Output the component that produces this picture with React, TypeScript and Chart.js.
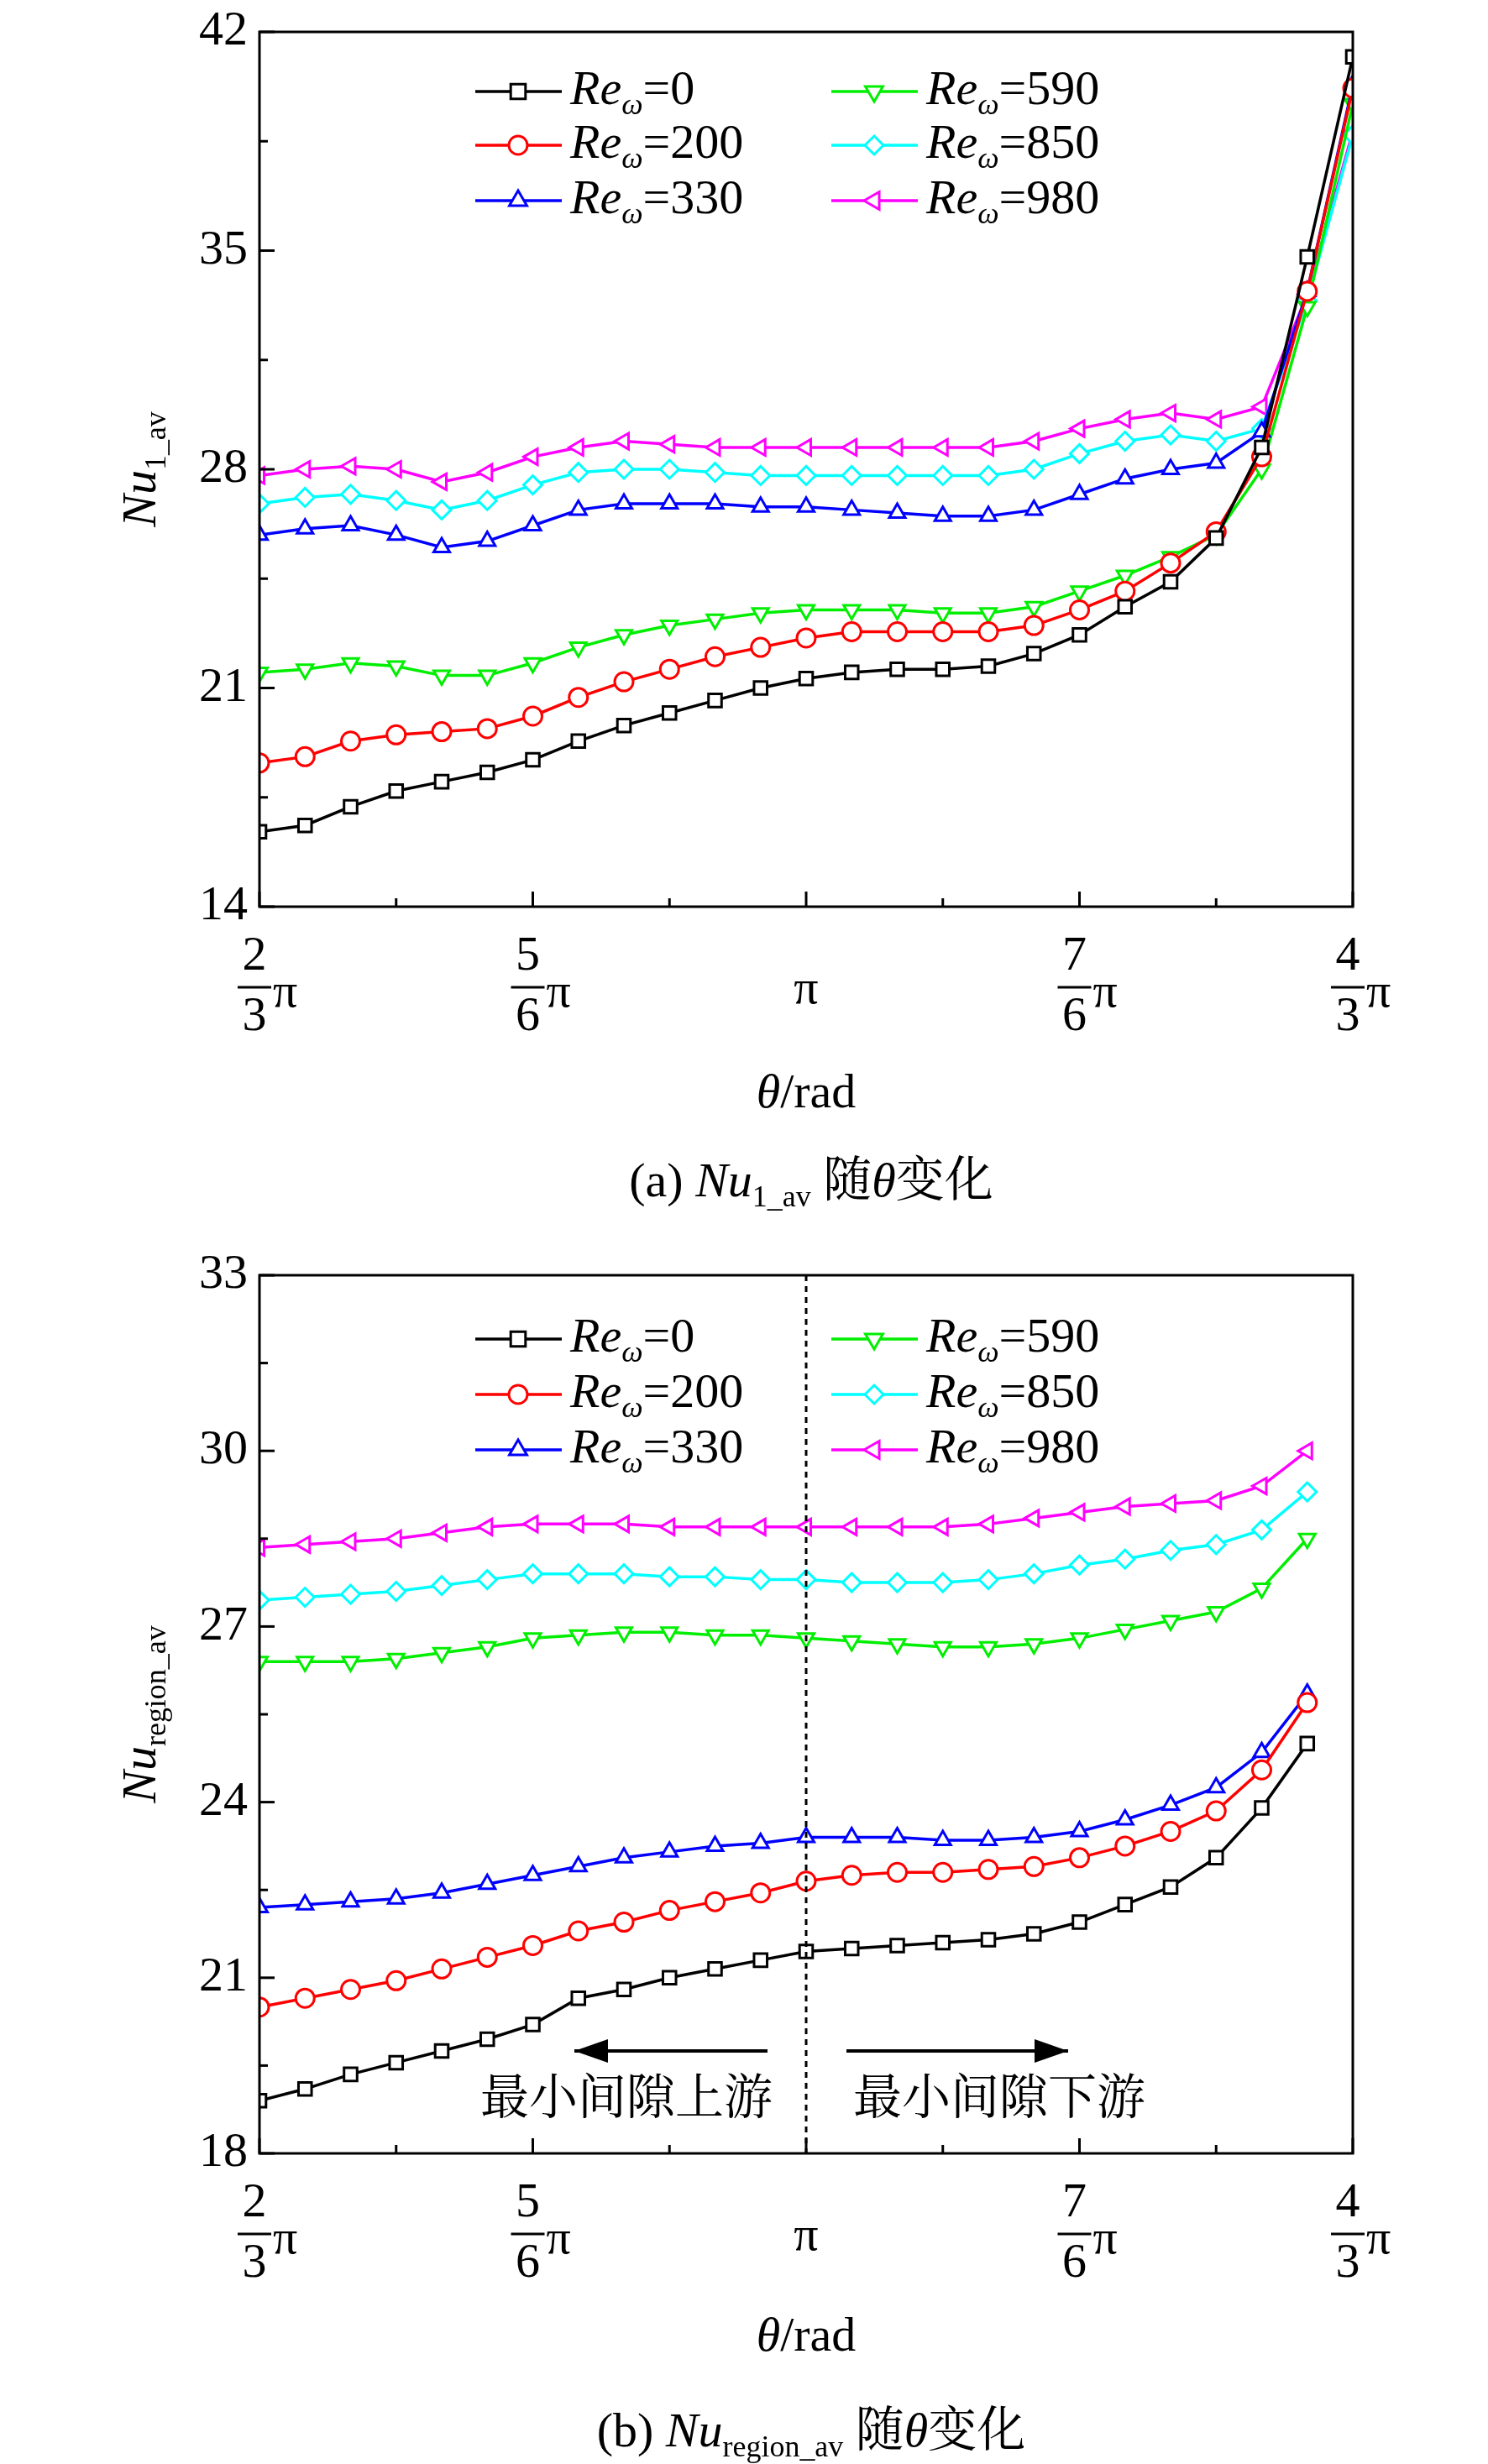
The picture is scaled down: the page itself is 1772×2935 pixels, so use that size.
import React, { useEffect, useRef } from "react";
import { Chart, registerables } from "chart.js";
Chart.register(...registerables);

const seriesNames = ["0", "200", "330", "590", "850", "980"];
const colors = ["#000000", "#ff0000", "#0000ff", "#00ee00", "#00ffff", "#ff00ff"];
const styles: any[] = [["rect", 0], ["circle", 0], ["triangle", 0], ["triangle", 180], ["rectRot", 0], ["triangle", 270]];

const a0 = [16.4,16.6,17.2,17.7,18.0,18.3,18.7,19.3,19.8,20.2,20.6,21.0,21.3,21.5,21.6,21.6,21.7,22.1,22.7,23.6,24.4,25.8,28.7,34.8,41.2];
const a200 = [18.6,18.8,19.3,19.5,19.6,19.7,20.1,20.7,21.2,21.6,22.0,22.3,22.6,22.8,22.8,22.8,22.8,23.0,23.5,24.1,25.0,26.0,28.4,33.7,40.2];
const a330 = [25.9,26.1,26.2,25.9,25.5,25.7,26.2,26.7,26.9,26.9,26.9,26.8,26.8,26.7,26.6,26.5,26.5,26.7,27.2,27.7,28.0,28.2,29.2,33.7,40.3];
const a590 = [21.5,21.6,21.8,21.7,21.4,21.4,21.8,22.3,22.7,23.0,23.2,23.4,23.5,23.5,23.5,23.4,23.4,23.6,24.1,24.6,25.2,25.9,28.0,33.2,39.7];
const a850 = [26.9,27.1,27.2,27.0,26.7,27.0,27.5,27.9,28.0,28.0,27.9,27.8,27.8,27.8,27.8,27.8,27.8,28.0,28.5,28.9,29.1,28.9,29.3,33.4,38.7];
const a980 = [27.8,28.0,28.1,28.0,27.6,27.9,28.4,28.7,28.9,28.8,28.7,28.7,28.7,28.7,28.7,28.7,28.7,28.9,29.3,29.6,29.8,29.6,30.0,33.6,38.8];

const b0 = [18.9,19.1,19.35,19.55,19.75,19.95,20.2,20.65,20.8,21.0,21.15,21.3,21.45,21.5,21.55,21.6,21.65,21.75,21.95,22.25,22.55,23.05,23.9,25.0];
const b200 = [20.5,20.65,20.8,20.95,21.15,21.35,21.55,21.8,21.95,22.15,22.3,22.45,22.65,22.75,22.8,22.8,22.85,22.9,23.05,23.25,23.5,23.85,24.55,25.7];
const b330 = [22.2,22.25,22.3,22.35,22.45,22.6,22.75,22.9,23.05,23.15,23.25,23.3,23.4,23.4,23.4,23.35,23.35,23.4,23.5,23.7,23.95,24.25,24.85,25.85];
const b590 = [26.4,26.4,26.4,26.45,26.55,26.65,26.8,26.85,26.9,26.9,26.85,26.85,26.8,26.75,26.7,26.65,26.65,26.7,26.8,26.95,27.1,27.25,27.65,28.5];
const b850 = [27.45,27.5,27.55,27.6,27.7,27.8,27.9,27.9,27.9,27.85,27.85,27.8,27.8,27.75,27.75,27.75,27.8,27.9,28.05,28.15,28.3,28.4,28.65,29.3];
const b980 = [28.35,28.4,28.45,28.5,28.6,28.7,28.75,28.75,28.75,28.7,28.7,28.7,28.7,28.7,28.7,28.7,28.75,28.85,28.95,29.05,29.1,29.15,29.4,30.0];

const xTickIdx = [0, 6, 12, 18, 24];
const xTickLabels: [string, string][] = [["2", "3"], ["5", "6"], ["", ""], ["7", "6"], ["4", "3"]];
const aYTicks = [14, 21, 28, 35, 42];
const bYTicks = [18, 21, 24, 27, 30, 33];

const SERIF = "'Liberation Serif', 'Noto Serif CJK SC', 'Noto Sans CJK SC', serif";
type Run = { t: string; i?: boolean; sub?: boolean };

function richWidth(ctx: any, runs: Run[], size: number) {
  let w = 0;
  for (const r of runs) {
    const s = r.sub ? size * 0.62 : size;
    ctx.font = `${r.i ? "italic " : ""}${s}px ${SERIF}`;
    w += ctx.measureText(r.t).width;
  }
  return w;
}
function drawRich(ctx: any, x: number, y: number, runs: Run[], size: number, align = "left") {
  const w = richWidth(ctx, runs, size);
  let cx = align === "center" ? x - w / 2 : x;
  ctx.textBaseline = "middle";
  ctx.textAlign = "left";
  ctx.fillStyle = "#000";
  for (const r of runs) {
    const s = r.sub ? size * 0.62 : size;
    ctx.font = `${r.i ? "italic " : ""}${s}px ${SERIF}`;
    ctx.fillText(r.t, cx, r.sub ? y + size * 0.3 : y);
    cx += ctx.measureText(r.t).width;
  }
}

function makeChart(canvas: HTMLCanvasElement, cfg: any) {
  const data = cfg.series.map((vals: number[], k: number) => ({
    data: vals.map((v, i) => ({ x: i, y: v })),
    borderColor: colors[k],
    backgroundColor: "#fff",
    borderWidth: 3.5,
    pointStyle: styles[k][0],
    rotation: styles[k][1],
    pointRadius: 11,
    pointBorderWidth: 3,
    pointBackgroundColor: "#fff",
    pointBorderColor: colors[k],
  }));
  const ymin = cfg.yTicks[0], ymax = cfg.yTicks[cfg.yTicks.length - 1];
  const plugin = {
    id: "deco",
    afterDraw(chart: any) {
      const ctx = chart.ctx;
      const xs = chart.scales.x, ys = chart.scales.y;
      const { left, right, top, bottom } = chart.chartArea;
      ctx.save();
      ctx.strokeStyle = "#000";
      ctx.lineWidth = 3;
      ctx.strokeRect(left, top, right - left, bottom - top);
      for (let i = 0; i <= 24; i += 3) {
        const px = xs.getPixelForValue(i);
        const len = i % 6 === 0 ? 18 : 10;
        ctx.beginPath(); ctx.moveTo(px, bottom); ctx.lineTo(px, bottom - len); ctx.stroke();
      }
      const step = cfg.yTicks[1] - cfg.yTicks[0];
      for (let v = ymin; v <= ymax + 1e-6; v += step / 2) {
        const py = ys.getPixelForValue(v);
        const major = Math.abs((v - ymin) / step - Math.round((v - ymin) / step)) < 1e-6;
        ctx.beginPath(); ctx.moveTo(left, py); ctx.lineTo(left + (major ? 18 : 10), py); ctx.stroke();
      }
      ctx.font = `58px ${SERIF}`;
      ctx.fillStyle = "#000";
      ctx.textAlign = "right"; ctx.textBaseline = "middle";
      for (const v of cfg.yTicks) ctx.fillText(String(v), left - 14, ys.getPixelForValue(v));
      xTickIdx.forEach((idx, k) => {
        const px = xs.getPixelForValue(idx);
        const [n, d] = xTickLabels[k];
        ctx.textBaseline = "middle";
        ctx.font = `58px ${SERIF}`;
        if (!n) {
          ctx.textAlign = "center";
          ctx.fillText("π", px, bottom + 100);
          return;
        }
        ctx.textAlign = "center";
        ctx.fillText(n, px - 6, bottom + 60);
        ctx.fillText(d, px - 6, bottom + 132);
        ctx.lineWidth = 3;
        ctx.beginPath(); ctx.moveTo(px - 26, bottom + 96); ctx.lineTo(px + 14, bottom + 96); ctx.stroke();
        ctx.textAlign = "left";
        ctx.fillText("π", px + 16, bottom + 104);
      });
      drawRich(ctx, (left + right) / 2, cfg.xTitleY, [{ t: "θ", i: true }, { t: "/rad" }], 58, "center");
      ctx.save();
      ctx.translate(170, (top + bottom) / 2);
      ctx.rotate(-Math.PI / 2);
      drawRich(ctx, 0, 0, [{ t: "Nu", i: true }, { t: cfg.ySub, sub: true }], 58, "center");
      ctx.restore();
      drawRich(ctx, 1772 / 2 + 80, cfg.captionY, [{ t: `(${cfg.letter}) ` }, { t: "Nu", i: true }, { t: cfg.ySub, sub: true }, { t: " 随" }, { t: "θ", i: true }, { t: "变化" }], 58, "center");
      const rows = cfg.legendY;
      seriesNames.forEach((nm, k) => {
        const col = k < 3 ? 0 : 1;
        const y = rows[k % 3];
        const x0 = col === 0 ? 566 : 990;
        ctx.strokeStyle = colors[k]; ctx.lineWidth = 3.5;
        ctx.beginPath(); ctx.moveTo(x0, y); ctx.lineTo(x0 + 103, y); ctx.stroke();
        ctx.fillStyle = "#fff"; ctx.lineWidth = 3;
        const mx = x0 + 51, r = 11;
        ctx.beginPath();
        const st = styles[k];
        if (st[0] === "rect") ctx.rect(mx - r * 0.8, y - r * 0.8, r * 1.6, r * 1.6);
        else if (st[0] === "circle") ctx.arc(mx, y, r, 0, Math.PI * 2);
        else if (st[0] === "rectRot") { ctx.moveTo(mx, y - r); ctx.lineTo(mx + r, y); ctx.lineTo(mx, y + r); ctx.lineTo(mx - r, y); ctx.closePath(); }
        else {
          const rot = (st[1] * Math.PI) / 180;
          for (let j = 0; j < 3; j++) {
            const a = rot + (j * 2 * Math.PI) / 3 - Math.PI / 2;
            const px = mx + r * 1.1 * Math.cos(a), py = y + r * 1.1 * Math.sin(a);
            j === 0 ? ctx.moveTo(px, py) : ctx.lineTo(px, py);
          }
          ctx.closePath();
        }
        ctx.fill(); ctx.stroke();
        drawRich(ctx, x0 + 113, y, [{ t: "Re", i: true }, { t: "ω", i: true, sub: true }, { t: "=" + nm }], 58);
      });
      if (cfg.extra) cfg.extra(chart, ctx);
      ctx.restore();
    },
  };
  return new Chart(canvas, {
    type: "line",
    data: { datasets: data },
    plugins: [plugin],
    options: {
      animation: false,
      responsive: false,
      layout: { padding: cfg.padding },
      plugins: { legend: { display: false }, tooltip: { enabled: false } },
      scales: {
        x: { type: "linear", min: 0, max: 24, ticks: { display: false }, grid: { display: false }, border: { display: false } },
        y: { min: ymin, max: ymax, ticks: { display: false }, grid: { display: false }, border: { display: false } },
      },
    },
  } as any);
}

function Panel(props: { cfg: any; top: number; height: number }) {
  const ref = useRef<HTMLCanvasElement>(null);
  useEffect(() => {
    let c: any = null;
    let dead = false;
    const fonts = (document as any).fonts;
    const loads = fonts
      ? Promise.all([
          fonts.load(`58px "Liberation Serif"`),
          fonts.load(`italic 58px "Liberation Serif"`),
          fonts.load(`58px "Noto Serif CJK SC"`, "最小间隙随变化"),
          fonts.load(`58px "Noto Sans CJK SC"`, "最小间隙随变化"),
        ]).catch(() => null)
      : Promise.resolve(null);
    loads.then(() => {
      if (!dead && ref.current) c = makeChart(ref.current, props.cfg);
    });
    return () => {
      dead = true;
      if (c) c.destroy();
    };
  }, []);
  return (
    <canvas ref={ref} width={1772} height={props.height}
      style={{ position: "absolute", left: 0, top: props.top, width: 1772, height: props.height }} />
  );
}

const cfgA = {
  series: [a0, a200, a330, a590, a850, a980],
  yTicks: aYTicks,
  ySub: "1_av",
  letter: "a",
  padding: { left: 301, right: 161, top: 38, bottom: 379 },
  xTitleY: 1304,
  captionY: 1410,
  legendY: [109, 173, 239],
};
const cfgB = {
  series: [b0, b200, b330, b590, b850, b980],
  yTicks: bYTicks,
  ySub: "region_av",
  letter: "b",
  padding: { left: 301, right: 161, top: 52, bottom: 362 },
  xTitleY: 1318,
  captionY: 1432,
  legendY: [128, 194, 260],
  extra: (chart: any, ctx: any) => {
    const xs = chart.scales.x;
    const { top, bottom } = chart.chartArea;
    const px = xs.getPixelForValue(12);
    ctx.strokeStyle = "#000"; ctx.lineWidth = 3; ctx.setLineDash([7, 6]);
    ctx.beginPath(); ctx.moveTo(px, top); ctx.lineTo(px, bottom); ctx.stroke();
    ctx.setLineDash([]);
    const ay = 976;
    const arrow = (x1: number, x2: number) => {
      ctx.beginPath(); ctx.moveTo(x1, ay); ctx.lineTo(x2, ay); ctx.stroke();
      const dir = Math.sign(x2 - x1);
      ctx.fillStyle = "#000";
      ctx.beginPath(); ctx.moveTo(x2, ay); ctx.lineTo(x2 - dir * 40, ay - 14); ctx.lineTo(x2 - dir * 40, ay + 14); ctx.closePath(); ctx.fill();
    };
    ctx.lineWidth = 4;
    arrow(914, 684);
    arrow(1008, 1272);
    ctx.font = `58px ${SERIF}`; ctx.fillStyle = "#000"; ctx.textAlign = "center"; ctx.textBaseline = "middle";
    ctx.fillText("最小间隙上游", 746, 1036);
    ctx.fillText("最小间隙下游", 1190, 1036);
  },
};

export default function App() {
  return (
    <div style={{ position: "absolute", left: 0, top: 0, width: 1772, height: 2935, background: "#fff" }}>
      <Panel cfg={cfgA} top={0} height={1467} />
      <Panel cfg={cfgB} top={1467} height={1468} />
    </div>
  );
}
